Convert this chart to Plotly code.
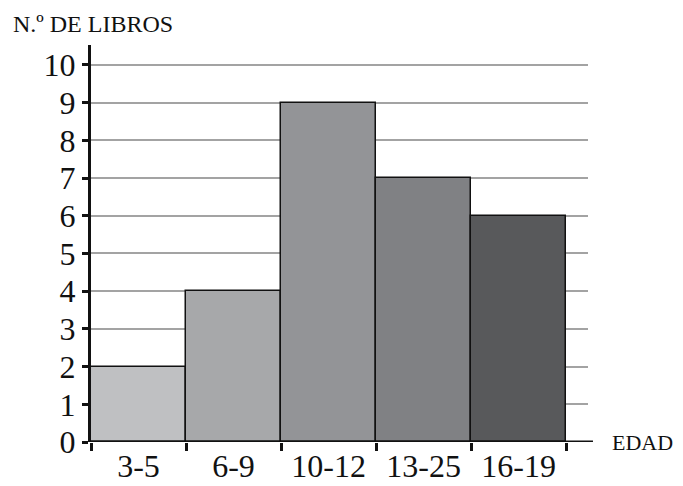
import plotly.graph_objects as go

categories = ["3-5", "6-9", "10-12", "13-25", "16-19"]
values = [2, 4, 9, 7, 6]
bar_colors = ["#bfc0c2", "#a7a8aa", "#939497", "#808184", "#58595b"]
y_ticks = list(range(0, 11))

positions = list(range(len(categories)))

fig = go.Figure()
fig.add_trace(go.Bar(
    x=positions, y=values, width=1,
    marker=dict(color=bar_colors, line=dict(color="#111111", width=1.5)),
    showlegend=False,
))

font_family = "Liberation Serif"
fig.update_layout(
    width=683, height=486,
    margin=dict(l=83, r=103, t=37, b=52, autoexpand=False),
    plot_bgcolor="white", paper_bgcolor="white",
    font=dict(family=font_family, color="#111111"),
    bargap=0,
    xaxis=dict(
        range=[-0.5, 4.73],
        tickvals=positions, ticktext=categories,
        ticks="", showgrid=False, zeroline=False, showline=False,
        automargin=False, ticklabelstandoff=2,
        tickfont=dict(size=32, family=font_family, color="#111111"),
        minor=dict(tick0=-0.5, dtick=1, ticks="outside", ticklen=8,
                   tickwidth=2.5, tickcolor="#111111", showgrid=False),
    ),
    yaxis=dict(
        range=[0, 10.53],
        tickvals=y_ticks, automargin=False,
        ticks="outside", ticklen=6, tickwidth=2.5, tickcolor="#111111",
        showline=True, linewidth=3, linecolor="#111111",
        showgrid=True, gridcolor="#a3a3a3", gridwidth=1.5,
        zeroline=False,
        tickfont=dict(size=32, family=font_family, color="#111111"),
    ),
    shapes=[dict(type="line", xref="paper", yref="y", x0=0, x1=1.01, y0=0, y1=0,
                 line=dict(color="#111111", width=3), layer="above")],
    annotations=[
        dict(text="N.º DE LIBROS", xref="paper", yref="paper", x=-0.16, y=1.09,
             xanchor="left", yanchor="top", showarrow=False,
             font=dict(size=24, family=font_family, color="#111111")),
        dict(text="EDAD", xref="paper", yref="y", x=1.045, y=0,
             xanchor="left", yanchor="middle", showarrow=False,
             font=dict(size=22, family=font_family, color="#111111")),
    ],
)

fig.write_html("out.html")
